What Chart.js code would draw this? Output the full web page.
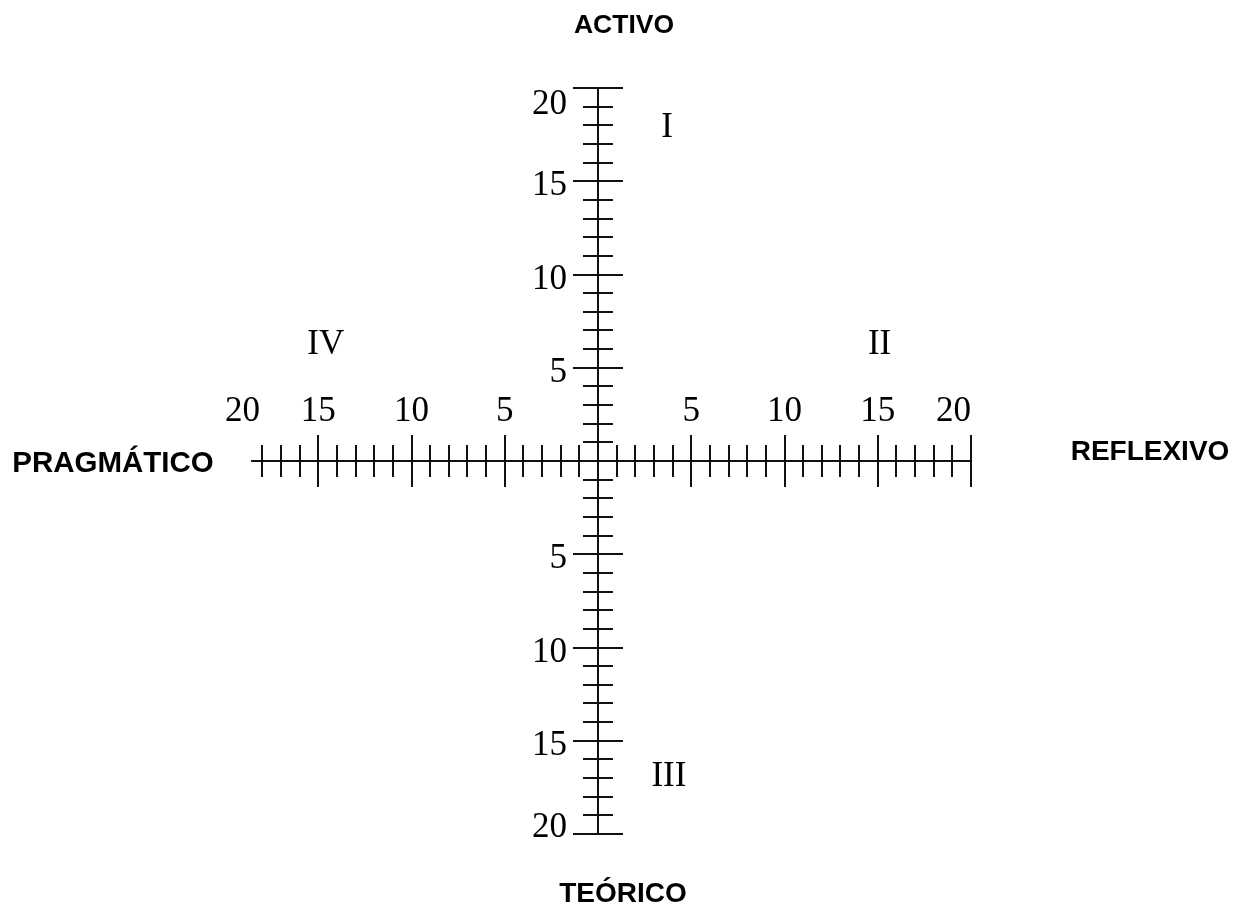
<!DOCTYPE html>
<html lang="es">
<head>
<meta charset="UTF-8">
<title>Estilos de aprendizaje</title>
<script src="https://cdn.jsdelivr.net/npm/chart.js"></script>
<style>
  html, body { margin: 0; padding: 0; background: #fff; }
  #wrap { width: 1254px; height: 915px; position: relative; }
</style>
</head>
<body>
<div id="wrap"><canvas id="ejes"></canvas></div>
<script>
// escala de cada semieje: 0 a 20 puntos
var axisMin = -20;
var axisMax = 20;
var tickStep = 1;
var majorEvery = 5;

// el eje horizontal del original se corta antes del 20 por la izquierda
var hAxisFrom = -18.6;
var hAxisTo = 20;
var vAxisFrom = -20;
var vAxisTo = 20;

var tickLabelValues = [-20, -15, -10, -5, 5, 10, 15, 20];

// estilos: arriba, derecha, abajo, izquierda
var styleNames = ['ACTIVO', 'REFLEXIVO', 'TEÓRICO', 'PRAGMÁTICO'];

// cuadrantes, en unidades de la escala
var quadrantNames = ['I', 'II', 'III', 'IV'];
var quadrantX = [3.7, 15.1, 3.8, -14.6];
var quadrantY = [18.0, 6.4, -16.8, 6.4];

function clamp(v, lo, hi) {
    return Math.min(Math.max(v, lo), hi);
}

function boldFont(size) {
    return 'bold ' + size + 'px "Liberation Sans", Arial, sans-serif';
}

var crossAxes = {
    id: 'crossAxes',
    afterDraw: function (chart) {
        var ctx = chart.ctx;
        var xs = chart.scales.x;
        var ys = chart.scales.y;
        var area = chart.chartArea;
        var cx = xs.getPixelForValue(0);
        var cy = ys.getPixelForValue(0);

        ctx.save();
        ctx.strokeStyle = '#111';
        ctx.lineWidth = 2;

        // los dos ejes
        ctx.beginPath();
        ctx.moveTo(xs.getPixelForValue(hAxisFrom), cy);
        ctx.lineTo(xs.getPixelForValue(hAxisTo), cy);
        ctx.moveTo(cx, ys.getPixelForValue(vAxisTo));
        ctx.lineTo(cx, ys.getPixelForValue(vAxisFrom));
        ctx.stroke();

        // marcas, cruzando el eje
        ctx.beginPath();
        xs.ticks.forEach(function (t) {
            if (t.value === 0 || t.value < hAxisFrom || t.value > hAxisTo) return;
            var half = t.value % majorEvery === 0 ? 26 : 16;
            var px = Math.round(xs.getPixelForValue(t.value));
            ctx.moveTo(px, cy - half);
            ctx.lineTo(px, cy + half);
        });
        ys.ticks.forEach(function (t) {
            if (t.value === 0 || t.value < vAxisFrom || t.value > vAxisTo) return;
            var half = t.value % majorEvery === 0 ? 25 : 15;
            var py = Math.round(ys.getPixelForValue(t.value));
            ctx.moveTo(cx - half, py);
            ctx.lineTo(cx + half, py);
        });
        ctx.stroke();

        // numeros
        ctx.fillStyle = '#000';
        ctx.font = '35px "Liberation Serif", serif';
        ctx.textBaseline = 'alphabetic';
        ctx.textAlign = 'center';
        var left = xs.getPixelForValue(axisMin);
        var right = xs.getPixelForValue(axisMax);
        tickLabelValues.forEach(function (v) {
            var txt = String(Math.abs(v));
            var w = ctx.measureText(txt).width;
            var px = clamp(xs.getPixelForValue(v), left + w / 2, right - w / 2);
            ctx.fillText(txt, px, cy - 40);
        });

        ctx.textAlign = 'right';
        var top = ys.getPixelForValue(axisMax);
        var bottom = ys.getPixelForValue(axisMin);
        tickLabelValues.forEach(function (v) {
            var mid = clamp(ys.getPixelForValue(v) + 2, top + 14, bottom - 9);
            ctx.fillText(String(Math.abs(v)), cx - 31, mid + 12);
        });

        // cuadrantes
        ctx.textAlign = 'center';
        quadrantNames.forEach(function (name, i) {
            var px = xs.getPixelForValue(quadrantX[i]);
            var py = ys.getPixelForValue(quadrantY[i]);
            ctx.fillText(name, px, py + 12);
        });

        // nombres de los estilos
        ctx.font = boldFont(26.5);
        ctx.fillText(styleNames[0], cx + 26, area.top - 55);
        ctx.font = boldFont(28);
        ctx.fillText(styleNames[1], area.right + 179, cy - 1);
        ctx.fillText(styleNames[2], cx + 25, area.bottom + 68);
        ctx.font = boldFont(29.5);
        ctx.fillText(styleNames[3], area.left - 112, cy + 11);

        ctx.restore();
    }
};

var ctx = document.getElementById('ejes').getContext('2d');
var chart = new Chart(ctx, {
    type: 'scatter',
    data: { datasets: [{ data: [] }] },
    options: {
        responsive: true,
        maintainAspectRatio: false,
        animation: false,
        layout: { padding: { left: 225, right: 283, top: 88, bottom: 81 } },
        plugins: {
            legend: { display: false },
            tooltip: { enabled: false }
        },
        scales: {
            x: {
                type: 'linear', min: axisMin, max: axisMax, display: false,
                ticks: { stepSize: tickStep, autoSkip: false, maxTicksLimit: 100 }
            },
            y: {
                type: 'linear', min: axisMin, max: axisMax, display: false,
                ticks: { stepSize: tickStep, autoSkip: false, maxTicksLimit: 100 }
            }
        }
    },
    plugins: [crossAxes]
});
</script>
</body>
</html>
